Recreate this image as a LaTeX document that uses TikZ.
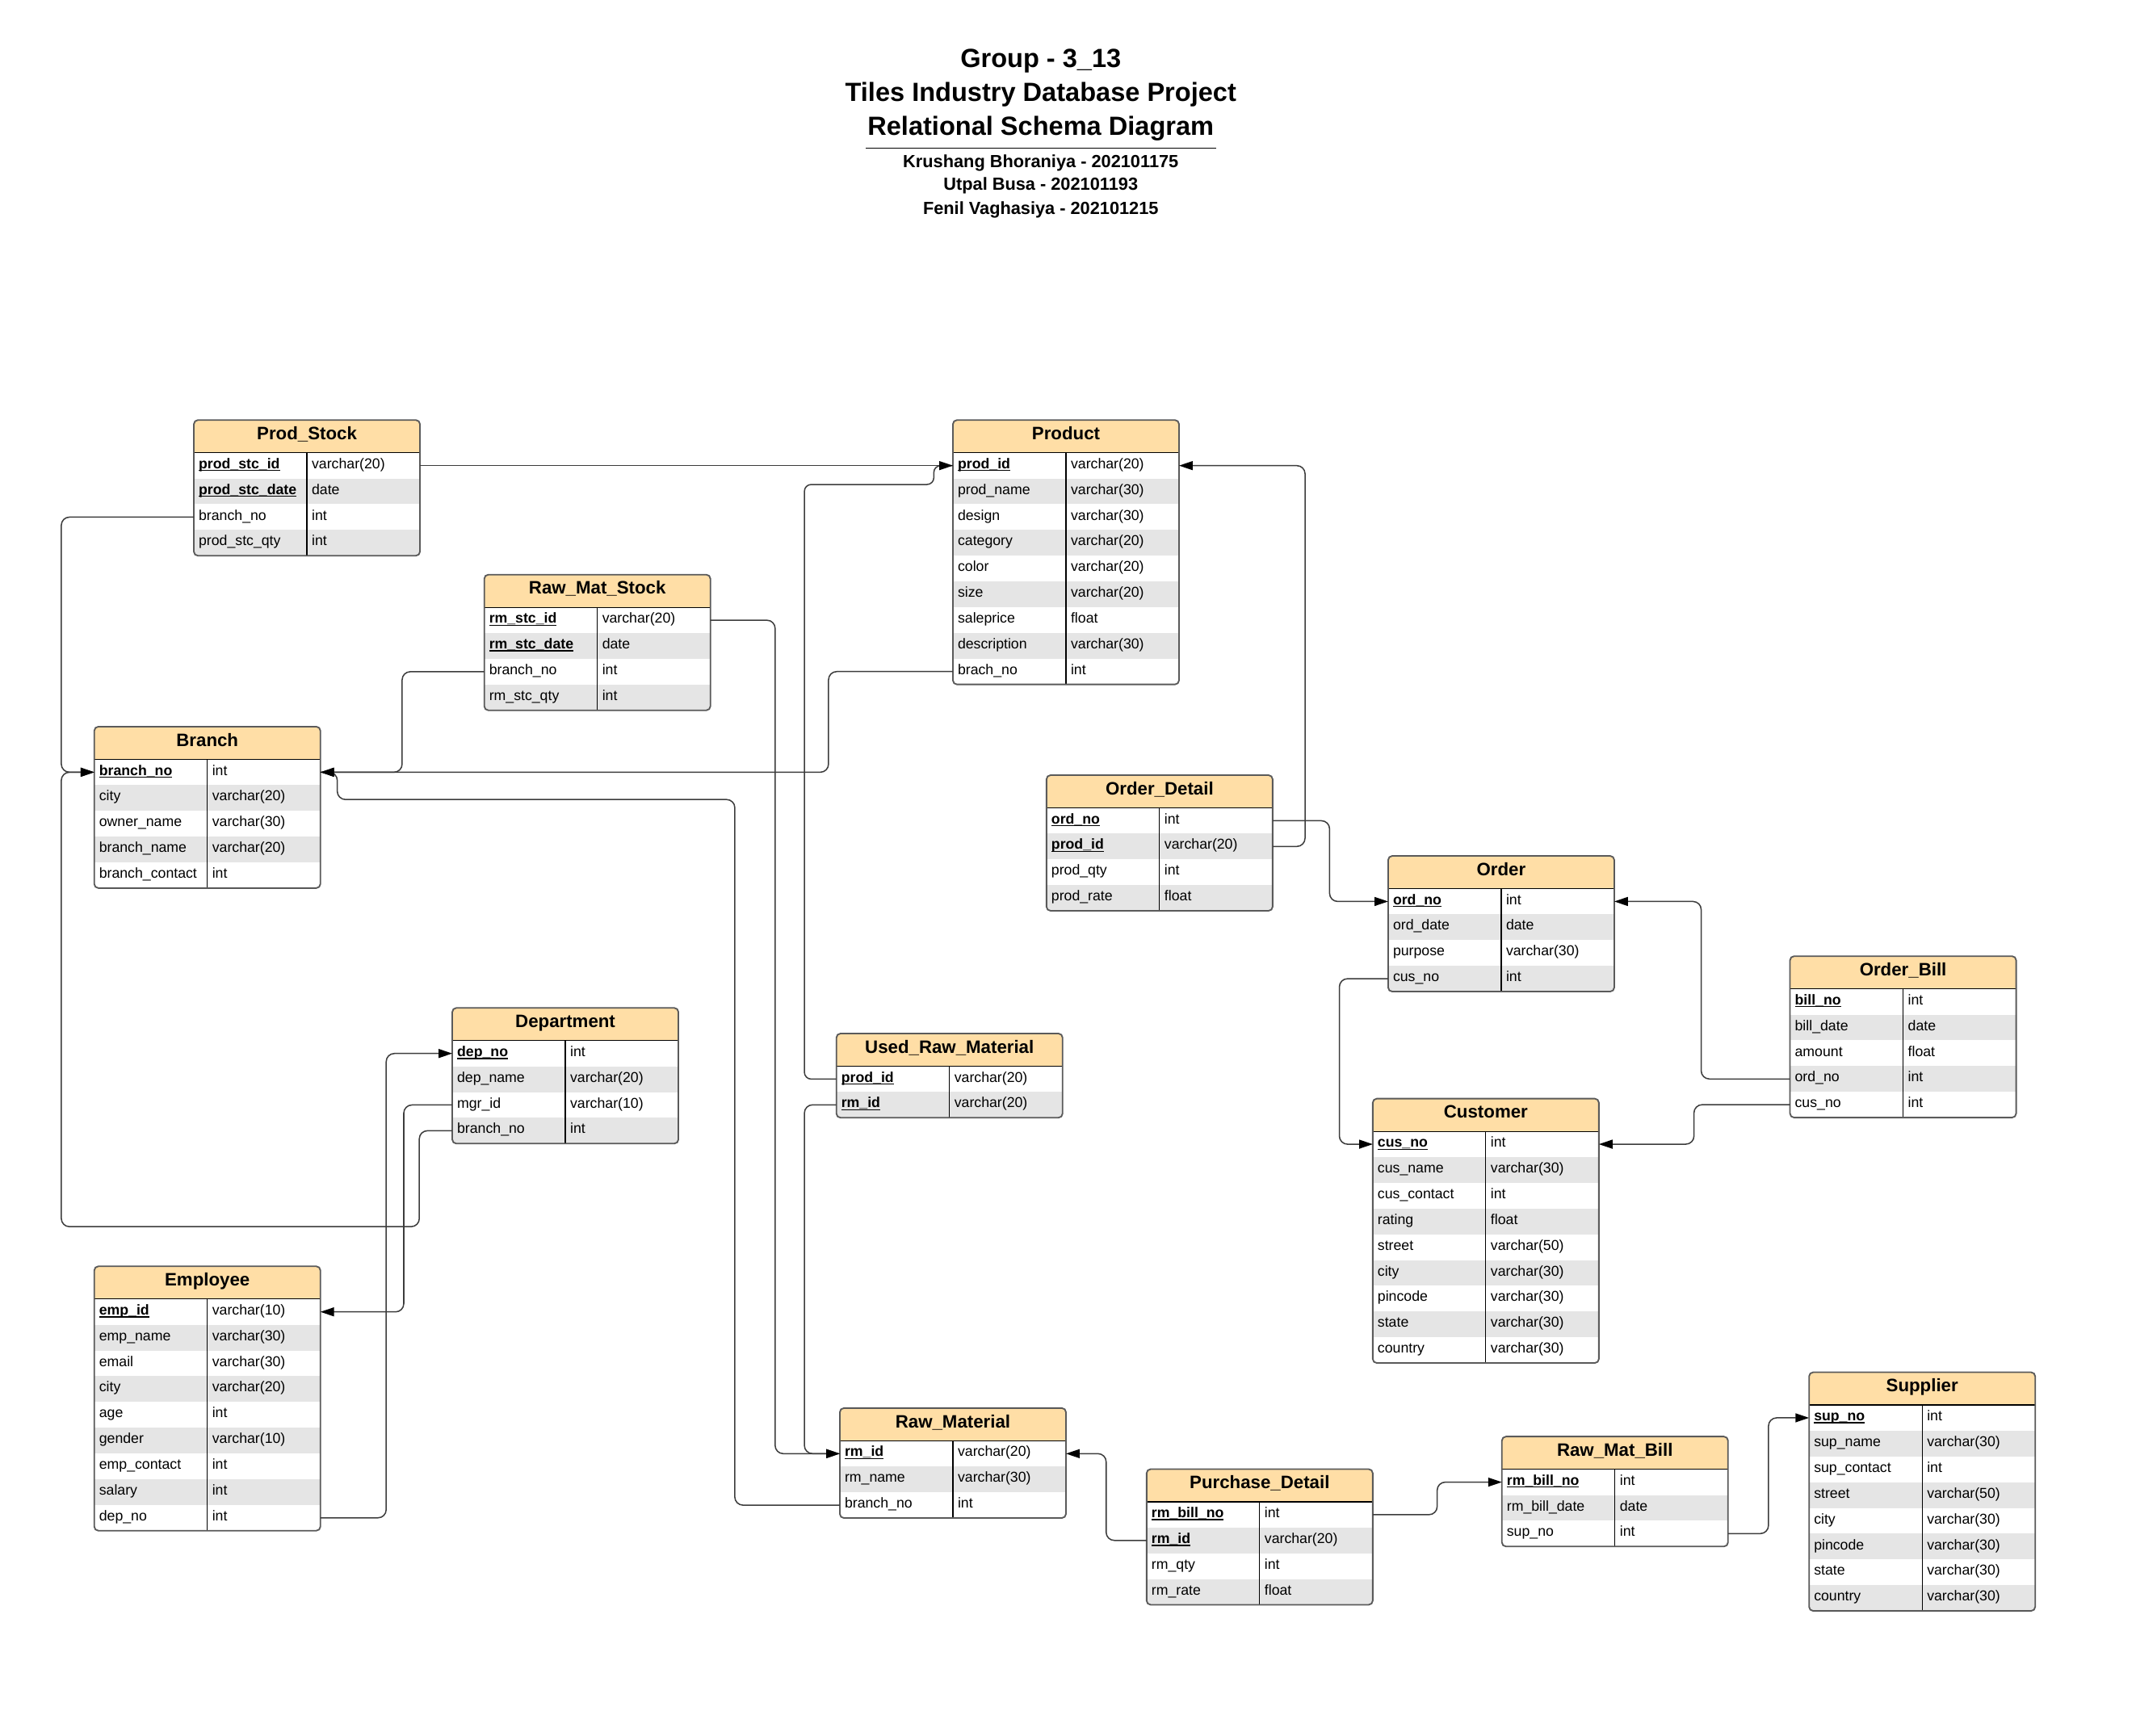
\documentclass[tikz,border=0pt]{standalone}
\usepackage{fontspec}
\setmainfont{Liberation Sans}
\usetikzlibrary{arrows.meta}
\definecolor{hdr}{RGB}{255,222,166}
\definecolor{rowgray}{RGB}{229,229,229}
\definecolor{bordergray}{RGB}{90,90,90}
\definecolor{linegray}{RGB}{60,60,60}

\newcommand\erkey[1]{\setbox0\hbox{\bfseries #1}\rlap{\rule[-1.9pt]{\wd0}{0.8pt}}\box0}

\tikzset{
  rowbox/.style={minimum width=166pt, minimum height=18.9pt, inner sep=0pt, outer sep=0pt},
  rowtext/.style={anchor=base west, inner sep=0pt, font=\fontsize{10.5}{12}\selectfont},
  hdrtext/.style={anchor=base, inner sep=0pt, font=\bfseries\fontsize{13.2}{15}\selectfont},
  conn/.style={draw=linegray, line width=0.9pt, rounded corners=6pt},
  arr/.style={-{Triangle[length=10pt,width=6.5pt,color=black]}},
  titlefont/.style={anchor=base, inner sep=0pt, font=\bfseries\fontsize{19.3}{23}\selectfont},
  authfont/.style={anchor=base, inner sep=0pt, font=\bfseries\fontsize{12.9}{15}\selectfont}
}

% #1 name, #2 left, #3 top, #4 title, #5 number of rows, #6 rows
\newcommand\ertable[6]{%
\begin{scope}[shift={(#2,#3)}]
\pgfmathsetmacro\tabbot{24+#5*18.9}
\begin{scope}
\clip[rounded corners=3pt] (0,0) rectangle (166,\tabbot);
\fill[white] (0,0) rectangle (166,\tabbot);
\fill[hdr] (0,0) rectangle (166,24);
\foreach \rk/\rf/\rtp [count=\i] in {#6} {
  \pgfmathsetmacro\rowtop{24+(\i-1)*18.9}
  \ifodd\i\relax\else\fill[rowgray] (0,\rowtop) rectangle (166,{\rowtop+18.9});\fi
}
\end{scope}
\foreach \rk/\rf/\rtp [count=\i] in {#6} {
  \pgfmathsetmacro\rowtop{24+(\i-1)*18.9}
  \node[rowbox] (#1-\i) at (83,{\rowtop+9.45}) {};
  \node[rowtext] at (3.4,{\rowtop+11.6}) {\if\rk k\erkey{\rf}\else\rf\fi};
  \node[rowtext] at (86.4,{\rowtop+11.6}) {\rtp};
}
\draw[black, line width=0.7pt] (0,24) -- (166,24);
\draw[black, line width=0.7pt] (83,24) -- (83,\tabbot);
\draw[bordergray, line width=1.1pt, rounded corners=3pt] (0,0) rectangle (166,\tabbot);
\node[hdrtext] (#1-h) at (83,14.3) {#4};
\end{scope}}

\begin{document}
\begin{tikzpicture}[x=1pt, y=-1pt]
\useasboundingbox (0,0) rectangle (1568,1274);
\fill[white] (0,0) rectangle (1568,1274);

% title
\node[titlefont] (t1) at (764,49.5) {Group - 3\_13};
\node[titlefont] (t2) at (764,74.3) {Tiles Industry Database Project};
\node[titlefont] (t3) at (764,99.2) {Relational Schema Diagram};
\draw[black, line width=0.8pt] (635.5,108.7) -- (892.6,108.7);
\node[authfont] (a1) at (764,123.1) {Krushang Bhoraniya - 202101175};
\node[authfont] (a2) at (764,139.9) {Utpal Busa - 202101193};
\node[authfont] (a3) at (764,157.1) {Fenil Vaghasiya - 202101215};

% tables
\ertable{ps}{142.3}{308.4}{Prod\_Stock}{4}{k/prod\_stc\_id/varchar(20), k/prod\_stc\_date/date, n/branch\_no/int, n/prod\_stc\_qty/int}
\ertable{prod}{699.5}{308.4}{Product}{9}{k/prod\_id/varchar(20), n/prod\_name/varchar(30), n/design/varchar(30), n/category/varchar(20), n/color/varchar(20), n/size/varchar(20), n/saleprice/float, n/description/varchar(30), n/brach\_no/int}
\ertable{rms}{355.5}{421.9}{Raw\_Mat\_Stock}{4}{k/rm\_stc\_id/varchar(20), k/rm\_stc\_date/date, n/branch\_no/int, n/rm\_stc\_qty/int}
\ertable{br}{69.2}{533.5}{Branch}{5}{k/branch\_no/int, n/city/varchar(20), n/owner\_name/varchar(30), n/branch\_name/varchar(20), n/branch\_contact/int}
\ertable{od}{768.2}{569.1}{Order\_Detail}{4}{k/ord\_no/int, k/prod\_id/varchar(20), n/prod\_qty/int, n/prod\_rate/float}
\ertable{ord}{1019}{628.4}{Order}{4}{k/ord\_no/int, n/ord\_date/date, n/purpose/varchar(30), n/cus\_no/int}
\ertable{ob}{1314}{702}{Order\_Bill}{5}{k/bill\_no/int, n/bill\_date/date, n/amount/float, n/ord\_no/int, n/cus\_no/int}
\ertable{dep}{332}{740}{Department}{4}{k/dep\_no/int, n/dep\_name/varchar(20), n/mgr\_id/varchar(10), n/branch\_no/int}
\ertable{urm}{614}{758.8}{Used\_Raw\_Material}{2}{k/prod\_id/varchar(20), k/rm\_id/varchar(20)}
\ertable{cus}{1007.7}{806.6}{Customer}{9}{k/cus\_no/int, n/cus\_name/varchar(30), n/cus\_contact/int, n/rating/float, n/street/varchar(50), n/city/varchar(30), n/pincode/varchar(30), n/state/varchar(30), n/country/varchar(30)}
\ertable{emp}{69.2}{929.7}{Employee}{9}{k/emp\_id/varchar(10), n/emp\_name/varchar(30), n/email/varchar(30), n/city/varchar(20), n/age/int, n/gender/varchar(10), n/emp\_contact/int, n/salary/int, n/dep\_no/int}
\ertable{rm}{616.5}{1033.8}{Raw\_Material}{3}{k/rm\_id/varchar(20), n/rm\_name/varchar(30), n/branch\_no/int}
\ertable{pd}{841.7}{1078.6}{Purchase\_Detail}{4}{k/rm\_bill\_no/int, k/rm\_id/varchar(20), n/rm\_qty/int, n/rm\_rate/float}
\ertable{rmb}{1102.5}{1054.7}{Raw\_Mat\_Bill}{3}{k/rm\_bill\_no/int, n/rm\_bill\_date/date, n/sup\_no/int}
\ertable{sup}{1328}{1007.5}{Supplier}{8}{k/sup\_no/int, n/sup\_name/varchar(30), n/sup\_contact/int, n/street/varchar(50), n/city/varchar(30), n/pincode/varchar(30), n/state/varchar(30), n/country/varchar(30)}

% connectors (merging ones first, without own tip)
\draw[conn, rounded corners=5pt] (urm-1.west) -| (590.5,355.7) -| ([xshift=-14pt]prod-1.west) -- (prod-1.west);
\draw[conn] (rm-3.west) -| (539.4,587) -| ([xshift=12.4pt]br-1.east) -- (br-1.east);

\draw[conn, arr] (ps-1.east) -- (prod-1.west);
\draw[conn, arr] (rms-1.east) -| ([xshift=-47.5pt]rm-1.west) -- (rm-1.west);
\draw[conn, arr] (urm-2.west) -| ([xshift=-26pt]rm-1.west) -- (rm-1.west);
\draw[conn, arr] (ps-3.west) -| ([xshift=-24.2pt]br-1.west) -- (br-1.west);
\draw[conn, arr] (dep-4.west) -| (307.8,900.6) -| ([xshift=-24.2pt]br-1.west) -- (br-1.west);
\draw[conn, arr] (dep-3.west) -| ([xshift=61.2pt]emp-1.east) -- (emp-1.east);
\draw[conn, arr] (emp-9.east) -| ([xshift=-48.5pt]dep-1.west) -- (dep-1.west);
\draw[conn, arr] (prod-9.west) -| ([xshift=373pt]br-1.east) -- (br-1.east);
\draw[conn, arr] (rms-3.west) -| ([xshift=60pt]br-1.east) -- (br-1.east);
\draw[conn, arr] (od-1.east) -| ([xshift=-43pt]ord-1.west) -- (ord-1.west);
\draw[conn, arr] (od-2.east) -| ([xshift=92.5pt]prod-1.east) -- (prod-1.east);
\draw[conn, arr] (ord-4.west) -| ([xshift=-24.5pt]cus-1.west) -- (cus-1.west);
\draw[conn, arr] (ob-4.west) -| ([xshift=63.8pt]ord-1.east) -- (ord-1.east);
\draw[conn, arr] (ob-5.west) -| ([xshift=69.8pt]cus-1.east) -- (cus-1.east);
\draw[conn, arr] (pd-2.west) -| ([xshift=29.5pt]rm-1.east) -- (rm-1.east);
\draw[conn, arr] (pd-1.east) -| ([xshift=-47.5pt]rmb-1.west) -- (rmb-1.west);
\draw[conn, arr] (rmb-3.east) -| ([xshift=-29.8pt]sup-1.west) -- (sup-1.west);
\end{tikzpicture}
\end{document}
